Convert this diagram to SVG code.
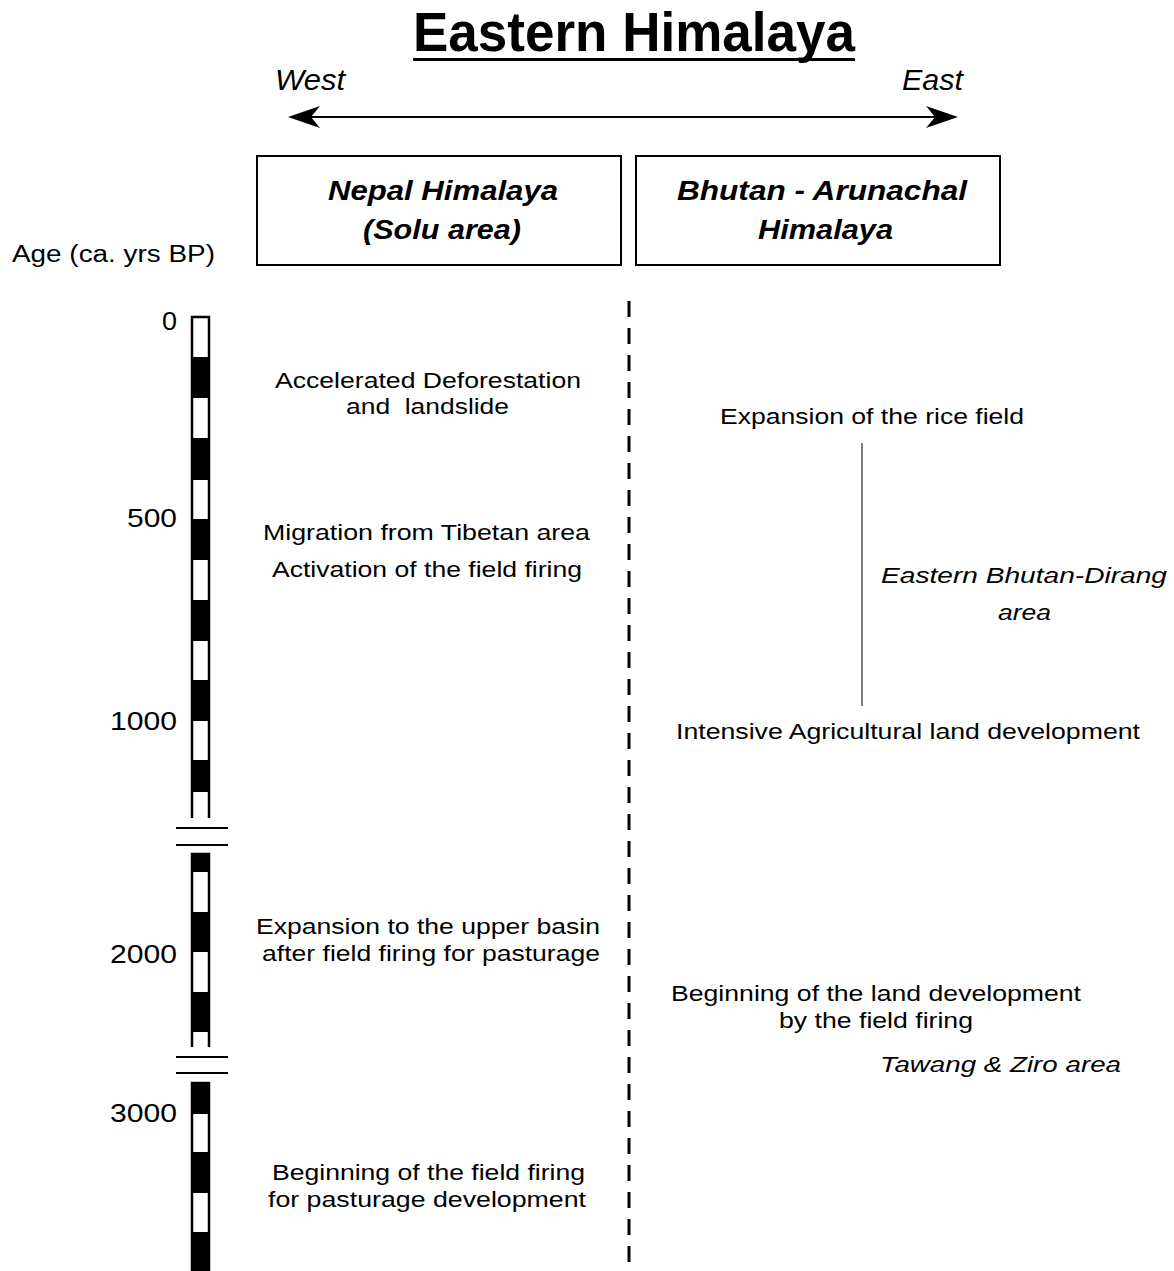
<svg xmlns="http://www.w3.org/2000/svg" width="1174" height="1271" viewBox="0 0 1174 1271">
<style>
text{font-family:"Liberation Sans",Arial,sans-serif;fill:#000}
.title{font-size:56px;font-weight:bold}
.dir{font-size:29px;font-style:italic}
.hdr{font-size:27px;font-weight:bold;font-style:italic}
.body{font-size:22px}
.it{font-size:22px;font-style:italic}
.age{font-size:23px}
.num{font-size:26px}
.box{fill:#fff;stroke:#000;stroke-width:2}
.seg{fill:#000}
.bar{fill:#fff;stroke:#000;stroke-width:2.5}
.brk{stroke:#000;stroke-width:2}
</style>
<rect width="1174" height="1271" fill="#fff"/>
<g id="title">
<text class="title" x="413" y="51" textLength="442" lengthAdjust="spacingAndGlyphs">Eastern Himalaya</text>
<rect x="413" y="58" width="442" height="3" fill="#000"/>
</g>
<g id="direction">
<text class="dir" x="275" y="90" textLength="70" lengthAdjust="spacingAndGlyphs">West</text>
<text class="dir" x="902" y="90" textLength="61" lengthAdjust="spacingAndGlyphs">East</text>
</g>
<g id="connectors">
<line x1="300" y1="117" x2="946" y2="117" stroke="#000" stroke-width="2"/>
<path d="M288,117 L320,106 L311,117 L320,128 Z" fill="#000"/>
<path d="M958,117 L926,106 L935,117 L926,128 Z" fill="#000"/>
<line x1="629" y1="301" x2="629" y2="1271" stroke="#000" stroke-width="3" stroke-dasharray="16 11"/>
<line x1="862" y1="443" x2="862" y2="706" stroke="#000" stroke-width="1"/>
</g>
<g id="node-nepal">
<rect class="box" x="257" y="156" width="364" height="109"/>
<text class="hdr" x="328" y="200" textLength="230" lengthAdjust="spacingAndGlyphs">Nepal Himalaya</text>
<text class="hdr" x="363" y="239" textLength="158" lengthAdjust="spacingAndGlyphs">(Solu area)</text>
</g>
<g id="node-bhutan">
<rect class="box" x="636" y="156" width="364" height="109"/>
<text class="hdr" x="677" y="200" textLength="290" lengthAdjust="spacingAndGlyphs">Bhutan - Arunachal</text>
<text class="hdr" x="758" y="239" textLength="135" lengthAdjust="spacingAndGlyphs">Himalaya</text>
</g>
<g id="age-axis">
<text class="age" x="12" y="262" textLength="203" lengthAdjust="spacingAndGlyphs">Age (ca. yrs BP)</text>
<text class="num" x="177" y="330" text-anchor="end" textLength="15" lengthAdjust="spacingAndGlyphs">0</text>
<text class="num" x="177" y="527" text-anchor="end" textLength="50" lengthAdjust="spacingAndGlyphs">500</text>
<text class="num" x="177" y="730" text-anchor="end" textLength="67" lengthAdjust="spacingAndGlyphs">1000</text>
<text class="num" x="177" y="963" text-anchor="end" textLength="67" lengthAdjust="spacingAndGlyphs">2000</text>
<text class="num" x="177" y="1122" text-anchor="end" textLength="67" lengthAdjust="spacingAndGlyphs">3000</text>
<path class="bar" d="M192,818 V317 H209 V818"/>
<rect class="seg" x="191" y="357" width="19" height="41"/>
<rect class="seg" x="191" y="438" width="19" height="42"/>
<rect class="seg" x="191" y="519" width="19" height="41"/>
<rect class="seg" x="191" y="600" width="19" height="41"/>
<rect class="seg" x="191" y="680" width="19" height="41"/>
<rect class="seg" x="191" y="760" width="19" height="32"/>
<line class="brk" x1="176" y1="828" x2="228" y2="828"/>
<line class="brk" x1="176" y1="845" x2="228" y2="845"/>
<path class="bar" d="M192,1047 V854 H209 V1047"/>
<rect class="seg" x="191" y="853" width="19" height="19"/>
<rect class="seg" x="191" y="912" width="19" height="40"/>
<rect class="seg" x="191" y="992" width="19" height="40"/>
<line class="brk" x1="176" y1="1057" x2="228" y2="1057"/>
<line class="brk" x1="176" y1="1073" x2="228" y2="1073"/>
<path class="bar" d="M192,1271 V1083 H209 V1271"/>
<rect class="seg" x="191" y="1082" width="19" height="32"/>
<rect class="seg" x="191" y="1152" width="19" height="41"/>
<rect class="seg" x="191" y="1232" width="19" height="39"/>
</g>
<g id="nepal-events">
<text class="body" x="275" y="388" textLength="306" lengthAdjust="spacingAndGlyphs">Accelerated Deforestation</text>
<text class="body" x="346" y="414" textLength="163" lengthAdjust="spacingAndGlyphs" xml:space="preserve">and  landslide</text>
<text class="body" x="263" y="540" textLength="327" lengthAdjust="spacingAndGlyphs">Migration from Tibetan area</text>
<text class="body" x="272" y="577" textLength="310" lengthAdjust="spacingAndGlyphs">Activation of the field firing</text>
<text class="body" x="256" y="934" textLength="344" lengthAdjust="spacingAndGlyphs">Expansion to the upper basin</text>
<text class="body" x="262" y="961" textLength="338" lengthAdjust="spacingAndGlyphs">after field firing for pasturage</text>
<text class="body" x="272" y="1180" textLength="313" lengthAdjust="spacingAndGlyphs">Beginning of the field firing</text>
<text class="body" x="268" y="1207" textLength="318" lengthAdjust="spacingAndGlyphs">for pasturage development</text>
</g>
<g id="bhutan-events">
<text class="body" x="720" y="424" textLength="304" lengthAdjust="spacingAndGlyphs">Expansion of the rice field</text>
<text class="it" x="881" y="583" textLength="286" lengthAdjust="spacingAndGlyphs">Eastern Bhutan-Dirang</text>
<text class="it" x="998" y="620" textLength="53" lengthAdjust="spacingAndGlyphs">area</text>
<text class="body" x="676" y="739" textLength="464" lengthAdjust="spacingAndGlyphs">Intensive Agricultural land development</text>
<text class="body" x="671" y="1001" textLength="410" lengthAdjust="spacingAndGlyphs">Beginning of the land development</text>
<text class="body" x="779" y="1028" textLength="194" lengthAdjust="spacingAndGlyphs">by the field firing</text>
<text class="it" x="880" y="1072" textLength="241" lengthAdjust="spacingAndGlyphs">Tawang &amp; Ziro area</text>
</g>
</svg>
